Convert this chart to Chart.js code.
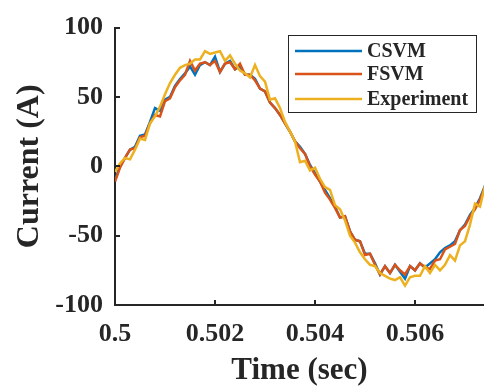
<!DOCTYPE html>
<html>
<head>
<meta charset="utf-8">
<script src="https://cdn.jsdelivr.net/npm/chart.js@4"></script>
<style>
html,body{margin:0;padding:0;background:#fff;}
#wrap{width:484px;height:388px;position:relative;}
</style>
</head>
<body>
<div id="wrap"><canvas id="c" width="484" height="388"></canvas></div>
<script>
const time = [
0.5000,0.5001,0.5002,0.5003,0.5004,0.5005,0.5006,0.5007,0.5008,0.5009,
0.5010,0.5011,0.5012,0.5013,0.5014,0.5015,0.5016,0.5017,0.5018,0.5019,
0.5020,0.5021,0.5022,0.5023,0.5024,0.5025,0.5026,0.5027,0.5028,0.5029,
0.5030,0.5031,0.5032,0.5033,0.5034,0.5035,0.5036,0.5037,0.5038,0.5039,
0.5040,0.5041,0.5042,0.5043,0.5044,0.5045,0.5046,0.5047,0.5048,0.5049,
0.5050,0.5051,0.5052,0.5053,0.5054,0.5055,0.5056,0.5057,0.5058,0.5059,
0.5060,0.5061,0.5062,0.5063,0.5064,0.5065,0.5066,0.5067,0.5068,0.5069,
0.5070,0.5071,0.5072,0.5073,0.5074];

const csvm = [
-10,0,6,12,14,22,23,32,42,40,
48,50,58,63,67,72,66,73,75,73,
79,68,74,76,70,72,66,66,63,56,
54,46,42,37,31,25,18,14,9,1,
-5,-11,-17,-23,-29,-37,-36,-47,-53,-54,
-63,-63,-70,-78,-72,-77,-71,-76,-81,-72,
-75,-70,-73,-70,-67,-62,-59,-57,-54,-46,
-42,-35,-30,-23,-14];

const fsvm = [
-11,-1,6,12,13,21,22,31,37,36,
47,49,57,62,66,76,69,74,75,73,
76,68,74,75,70,74,66,66,62,56,
54,46,42,37,31,25,18,13,9,0,
-6,-11,-19,-24,-30,-37,-36,-47,-53,-54,
-64,-63,-71,-78,-72,-77,-71,-75,-78,-72,
-75,-70,-73,-74,-68,-67,-60,-58,-56,-46,
-43,-36,-31,-24,-15];

const experiment = [
-4,2,6,5,12,20,19,31,36,43,
52,60,66,71,73,74,77,77,83,81,
82,83,76,80,74,69,67,64,73,65,
61,48,49,42,32,25,18,3,4,-3,
-1,-9,-15,-17,-28,-31,-39,-50,-55,-62,
-67,-71,-72,-77,-79,-81,-82,-80,-86,-80,
-79,-79,-72,-77,-71,-75,-71,-64,-68,-57,
-54,-42,-27,-29,-14];

const seriesNames = ['CSVM','FSVM','Experiment'];
const seriesColors = ['#0072BD','#D95319','#EDB120'];
const xTicks = [0.5,0.502,0.504,0.506];
const xTickLabels = ['0.5','0.502','0.504','0.506'];
const yTicks = [-100,-50,0,50,100];
const yTickLabels = ['-100','-50','0','50','100'];

const serif = "'Liberation Serif','Times New Roman',serif";
const axisColor = '#262626';

function pts(ys){ return ys.map((v,i)=>({x:time[i], y:v})); }

const innerTicks = {
  id:'innerTicks',
  afterDatasetsDraw(chart){
    const ctx = chart.ctx, xs = chart.scales.x, ys = chart.scales.y;
    const a = chart.chartArea;
    ctx.save();
    ctx.strokeStyle = axisColor; ctx.lineWidth = 2;
    xTicks.forEach(v=>{
      const px = Math.round(xs.getPixelForValue(v));
      ctx.beginPath(); ctx.moveTo(px, a.bottom); ctx.lineTo(px, a.bottom-5); ctx.stroke();
    });
    yTicks.forEach(v=>{
      const py = Math.round(ys.getPixelForValue(v));
      ctx.beginPath(); ctx.moveTo(a.left, py); ctx.lineTo(a.left+5, py); ctx.stroke();
    });
    ctx.restore();
  }
};

const boxLegend = {
  id:'boxLegend',
  afterDraw(chart){
    const ctx = chart.ctx;
    const bx = 288, by = 35, bw = 188, bh = 77;
    ctx.save();
    ctx.fillStyle = '#fff';
    ctx.fillRect(bx, by, bw, bh);
    ctx.strokeStyle = axisColor; ctx.lineWidth = 1;
    ctx.strokeRect(bx+0.5, by+0.5, bw, bh);
    ctx.font = "bold 20px " + serif;
    ctx.textBaseline = 'middle';
    ctx.fillStyle = axisColor;
    const rows = [51, 74, 99];
    chart.data.datasets.forEach((ds,i)=>{
      ctx.strokeStyle = ds.borderColor; ctx.lineWidth = 2.5;
      ctx.beginPath(); ctx.moveTo(295, rows[i]); ctx.lineTo(362, rows[i]); ctx.stroke();
      ctx.fillText(ds.label, 367, rows[i]+1);
    });
    ctx.restore();
  }
};

new Chart(document.getElementById('c'), {
  type:'line',
  data:{
    datasets:[
      {label:seriesNames[0], data:pts(csvm), borderColor:seriesColors[0], borderWidth:2.5, pointRadius:0, tension:0, order:3},
      {label:seriesNames[1], data:pts(fsvm), borderColor:seriesColors[1], borderWidth:2.5, pointRadius:0, tension:0, order:2},
      {label:seriesNames[2], data:pts(experiment), borderColor:seriesColors[2], borderWidth:2.5, pointRadius:0, tension:0, order:1}
    ]
  },
  options:{
    responsive:false,
    animation:false,
    layout:{padding:{top:20, right:0, left:0, bottom:0}},
    plugins:{legend:{display:false}, tooltip:{enabled:false}},
    scales:{
      x:{
        type:'linear', min:0.5, max:0.50738,
        afterBuildTicks(s){ s.ticks = xTicks.map(v=>({value:v})); },
        afterFit(s){ s.height = 83; },
        grid:{display:false, drawTicks:false},
        border:{display:true, color:axisColor, width:2},
        ticks:{padding:14, color:axisColor, font:{family:serif, size:26, weight:'bold'},
          callback:(v)=>{ const i = xTicks.indexOf(v); return i>=0 ? xTickLabels[i] : ''; }},
        title:{display:true, text:'Time (sec)', color:axisColor, font:{family:serif, size:31, weight:'bold'}, padding:{top:0,bottom:-2}}
      },
      y:{
        type:'linear', min:-100, max:100,
        afterBuildTicks(s){ s.ticks = yTicks.map(v=>({value:v})); },
        afterFit(s){ s.width = 115; },
        grid:{display:false, drawTicks:false},
        border:{display:true, color:axisColor, width:2},
        ticks:{padding:12, color:axisColor, font:{family:serif, size:26, weight:'bold'},
          callback:(v)=>{ const i = yTicks.indexOf(v); return i>=0 ? yTickLabels[i] : ''; }},
        title:{display:true, text:'Current (A)', color:axisColor, font:{family:serif, size:32, weight:'bold'}, padding:{top:11,bottom:0}}
      }
    }
  },
  plugins:[innerTicks, boxLegend]
});
</script>
</body>
</html>
